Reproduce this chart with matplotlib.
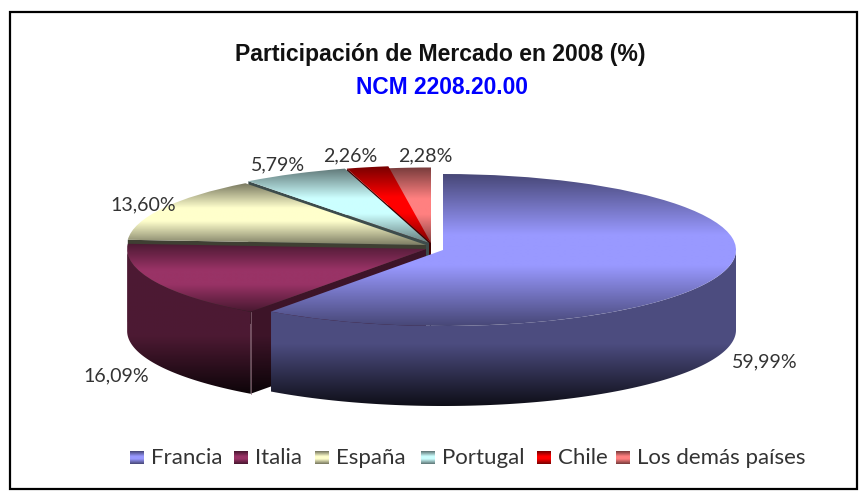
import numpy as np
import matplotlib
matplotlib.use('Agg')
import matplotlib.pyplot as plt
from matplotlib.patches import Polygon, Rectangle

paises = ['Francia', 'Italia', 'España', 'Portugal', 'Chile', 'Los demás países']
valores = [59.99, 16.09, 13.60, 5.79, 2.26, 2.28]
colores = ['#9999FF', '#993366', '#FFFFCC', '#CCFFFF', '#FF0000', '#FF8080']

W, H = 859, 496
# escala del pastel aplastado, en pixeles por unidad
RX, RY = 293.0, 76.0
CX, CY = 428.0, 245.0

# desplazamiento de cada porcion en pixeles (x, y hacia abajo), radio y profundidad
despl = [(15, 5), (-2, 4), (-2, 0), (1, -2), (3, -2), (3, 0)]
radios = [1.0, 1.02, 1.02, 1.02, 1.02, 1.02]
prof = [80, 82, 82, 82, 82, 82]
# oscurecido de la cara del corte
corte = [0.8, 0.8, 0.5, 0.6, 0.5, 0.6]
# orden de dibujo: de atras hacia adelante
orden = [5, 4, 3, 2, 1, 0]

etiq_xy = [(765, 362), (116, 376), (143, 205), (278, 165), (350, 156), (425, 156)]
leyenda_x = [130, 234, 315, 421, 537, 616]


def grad_sup(color, n=200):
    c = np.array(matplotlib.colors.to_rgb(color))
    t = np.linspace(0, 1, n)
    f = 0.45 + 0.55 * np.clip((1 - np.abs(2 * t - 1)) / 0.8, 0, 1)
    return (f[:, None] * c)[:, None, :]


def grad_lado(color, n=200):
    c = np.array(matplotlib.colors.to_rgb(color))
    t = np.linspace(0, 1, n)
    f = np.where(t < 0.6, 0.5, 0.5 - 0.42 * (t - 0.6) / 0.4)
    return (f[:, None] * c)[:, None, :]


def relleno(ax, img, patch, z):
    ext = patch.get_path().transformed(patch.get_patch_transform()).get_extents()
    im = ax.imshow(img, extent=(ext.x0 - 0.02, ext.x1 + 0.02, ext.y0 - 0.02, ext.y1 + 0.02),
                   aspect='auto', interpolation='bilinear', zorder=z)
    im.set_clip_path(patch)


fig = plt.figure(figsize=(W / 100, H / 100), dpi=100, facecolor='white')
ax = fig.add_axes([0, 0, 1, 1])
wedges, _ = ax.pie(valores, startangle=90, counterclock=False, radius=1,
                   wedgeprops=dict(facecolor='none', edgecolor='none'))
ax.set_aspect('auto')

z = 2
for i in orden:
    w = wedges[i]
    cx = despl[i][0] / RX
    cy = -despl[i][1] / RY
    w.set_center((cx, cy))
    w.set_radius(radios[i])
    d = prof[i] / RY
    r = radios[i]
    t1, t2 = w.theta1, w.theta2

    # cara del corte, se ve sobre el borde izquierdo de cada porcion
    a = np.deg2rad(t2)
    ex, ey = cx + r * np.cos(a), cy + r * np.sin(a)
    cara = Polygon([(cx, cy), (ex, ey), (ex, ey - d), (cx, cy - d)],
                   facecolor='none', edgecolor='none')
    ax.add_patch(cara)
    relleno(ax, grad_lado(colores[i]) * corte[i], cara, z)
    z += 1

    # borde exterior que mira al frente
    ini, fin = max(t1, -180), min(t2, 0)
    if ini < fin:
        ang = np.deg2rad(np.linspace(ini, fin, 120))
        xs = cx + r * np.cos(ang)
        ys = cy + r * np.sin(ang)
        puntos = np.r_[np.c_[xs, ys], np.c_[xs, ys - d][::-1]]
        lado = Polygon(puntos, facecolor='none', edgecolor='none')
        ax.add_patch(lado)
        relleno(ax, grad_lado(colores[i]), lado, z)
        z += 1
    if i == 1:
        ax.plot([ex, ex], [ey, ey - d], color='#8a6a78', lw=0.5, zorder=z)
        z += 1

    # cara superior
    w.set_zorder(z)
    relleno(ax, grad_sup(colores[i]), w, z)
    z += 1

ax.set_xlim(-CX / RX, (W - CX) / RX)
ax.set_ylim(-(H - CY) / RY, CY / RY)
ax.axis('off')

# capa en pixeles para marco y textos
pix = fig.add_axes([0, 0, 1, 1], facecolor='none')
pix.set_xlim(0, W)
pix.set_ylim(H, 0)
pix.axis('off')
pix.add_patch(Rectangle((9.5, 12), 847.5, 477, facecolor='none', edgecolor='black', lw=1.6))

pix.text(440, 55, 'Participación de Mercado en 2008 (%)', ha='center', va='center',
         fontsize=16.6, fontweight='bold', family='Liberation Sans', color='#111111')
pix.text(442, 87, 'NCM 2208.20.00', ha='center', va='center',
         fontsize=16.4, fontweight='bold', family='Liberation Sans', color='#0000FF')

for v, (x, y) in zip(valores, etiq_xy):
    pix.text(x, y, ('%.2f%%' % v).replace('.', ','), ha='center', va='center',
             fontsize=14.1, family='Lato', color='#333333')

for nombre, col, x in zip(paises, colores, leyenda_x):
    pix.imshow(grad_sup(col), extent=(x, x + 14, 464, 451), aspect='auto')
    pix.text(x + 21, 464, nombre, ha='left', va='baseline', fontsize=16,
             family='Lato', color='#333333')
pix.set_xlim(0, W)
pix.set_ylim(H, 0)

fig.savefig('out.png', dpi=100)
